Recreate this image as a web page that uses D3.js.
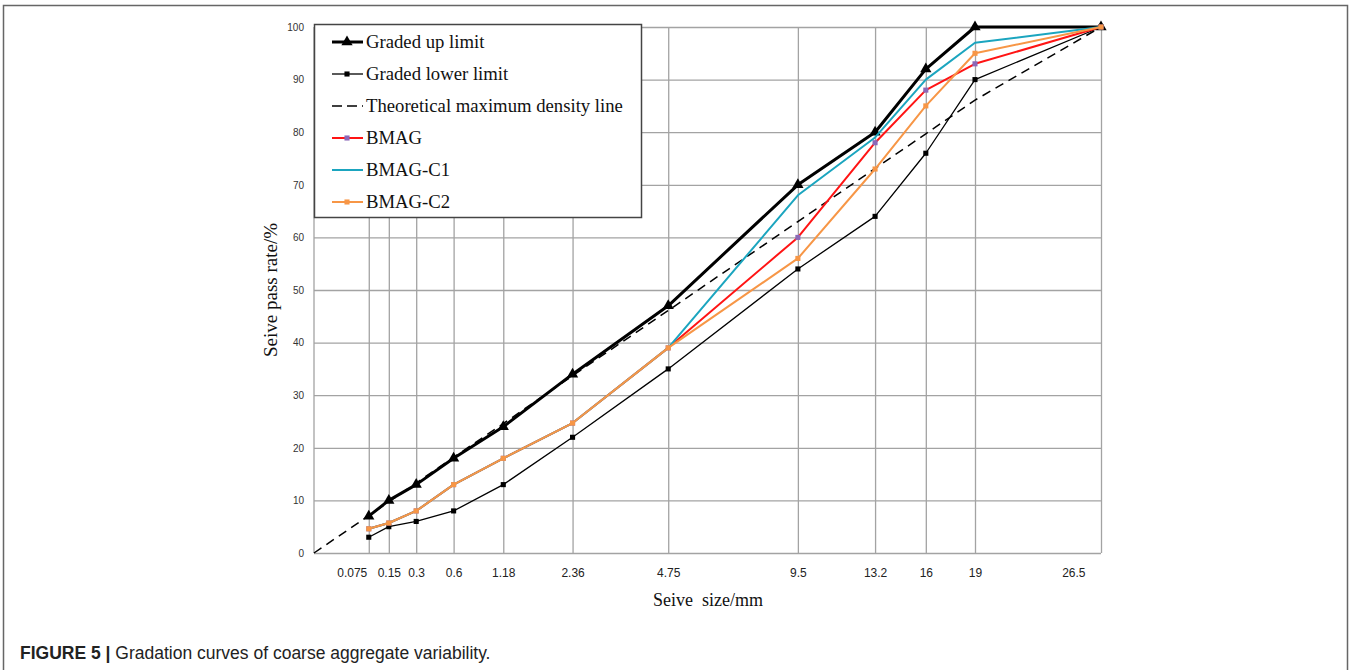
<!DOCTYPE html>
<html>
<head>
<meta charset="utf-8">
<script src="https://cdn.jsdelivr.net/npm/d3@7"></script>
<style>
  body { margin: 0; background: #fff; }
</style>
</head>
<body>
<div id="chart"></div>
<script>

// sieve sizes (mm) and pass rates (%)
const sieveSizes   = [0.075, 0.15, 0.3, 0.6, 1.18, 2.36, 4.75, 9.5, 13.2, 16, 19, 26.5]
const upperLimit   = [7, 10, 13, 18, 24, 34, 47, 70, 80, 92, 100, 100]
const lowerLimit   = [3, 5, 6, 8, 13, 22, 35, 54, 64, 76, 90, 100]
const bmag         = [4.6, 5.7, 8, 13, 18, 24.7, 39, 60, 78, 88, 93, 100]
const bmagC1       = [4.6, 5.7, 8, 13, 18, 24.7, 39, 68, 79, 90, 97, 100]
const bmagC2       = [4.6, 5.7, 8, 13, 18, 24.7, 39, 56, 73, 85, 95, 100]
const densitySizes = [0, 0.075, 0.15, 0.3, 0.6, 1.18, 2.36, 4.75, 9.5, 13.2, 16, 19, 26.5]
const densityLine  = [0, 7.1, 9.7, 13.3, 18.2, 24.6, 33.7, 46.1, 63, 73.1, 79.7, 86.1, 100]
const yTicks       = [0, 10, 20, 30, 40, 50, 60, 70, 80, 90, 100]
const seriesNames  = ['Graded up limit', 'Graded lower limit', 'Theoretical maximum density line',
                      'BMAG', 'BMAG-C1', 'BMAG-C2']

var width = 1351,
    height = 670,
    plot = {left: 314, right: 1101, top: 27, bottom: 553}

// 0.45 power gradation axis; the original stretches the last interval (19 -> 26.5)
var xScale = d3.scalePow().exponent(0.45)
        .domain([0, 19, 26.5])
        .range([plot.left, 975, plot.right]),
    yScale = d3.scaleLinear().domain([0, 100]).range([plot.bottom, plot.top])

var series = [
    {name: seriesNames[0], xs: sieveSizes, ys: upperLimit, color: '#000', width: 3, marker: 'tri', mColor: '#000'},
    {name: seriesNames[1], xs: sieveSizes, ys: lowerLimit, color: '#000', width: 1.3, marker: 'sq', mColor: '#000'},
    {name: seriesNames[2], xs: densitySizes, ys: densityLine, color: '#000', width: 1.5, dash: '9,6'},
    {name: seriesNames[3], xs: sieveSizes, ys: bmag, color: '#ff1414', width: 2, marker: 'sq', mColor: '#8b68b8'},
    {name: seriesNames[4], xs: sieveSizes, ys: bmagC1, color: '#1ba5bf', width: 2},
    {name: seriesNames[5], xs: sieveSizes, ys: bmagC2, color: '#f79646', width: 2, marker: 'sq', mColor: '#f79646'}
]

var svg = d3.select('#chart')
    .append('svg')
    .attr('width', width)
    .attr('height', height)
    .attr('font-family', 'Liberation Sans, Arial, sans-serif')

// outer frame of the figure panel
svg.append('path')
    .attr('d', `M3.5,${height} V5.5 H1347.5 V${height}`)
    .attr('fill', 'none')
    .attr('stroke', '#666')
    .attr('stroke-width', 1.5)

// grid + axes
var yAxis = d3.axisLeft(yScale)
    .tickValues(yTicks)
    .tickSize(-(plot.right - plot.left))
    .tickPadding(10)

svg.append('g')
    .attr('transform', `translate(${plot.left},0)`)
    .call(yAxis)
    .call(g => g.select('.domain').remove())
    .call(g => g.selectAll('line').attr('stroke', '#a3a3a3').attr('stroke-width', 1.3))
    .call(g => g.selectAll('text').attr('font-size', '10px').attr('fill', '#333'))

var xAxis = d3.axisBottom(xScale)
    .tickValues(sieveSizes)
    .tickSize(-(plot.bottom - plot.top))
    .tickPadding(15)
    .tickFormat(d => d)

svg.append('g')
    .attr('transform', `translate(0,${plot.bottom})`)
    .call(xAxis)
    .call(g => g.select('.domain').remove())
    .call(g => g.selectAll('line').attr('stroke', '#a3a3a3').attr('stroke-width', 1.3))
    .call(g => g.selectAll('text').attr('font-size', '12px').attr('fill', '#222'))
    .call(g => g.selectAll('text')
        .filter((d, i) => i === 0)
        .attr('text-anchor', 'end')
        .attr('dx', '-2'))
    .call(g => g.selectAll('text')
        .filter((d, i) => i === sieveSizes.length - 1)
        .attr('text-anchor', 'end')
        .attr('dx', '-16'))

// left border of the plot area
svg.append('line')
    .attr('x1', plot.left).attr('x2', plot.left)
    .attr('y1', plot.top).attr('y2', plot.bottom)
    .attr('stroke', '#a3a3a3')
    .attr('stroke-width', 1.3)

// series lines
var line = d3.line()
    .x(d => xScale(d[0]))
    .y(d => yScale(d[1]))

var triangle = d3.symbol().type(d3.symbolTriangle).size(55),
    square = d3.symbol().type(d3.symbolSquare).size(26)

series.forEach(function(s) {
    var pts = s.xs.map((x, i) => [x, s.ys[i]])

    svg.append('path')
        .datum(pts)
        .attr('fill', 'none')
        .attr('stroke', s.color)
        .attr('stroke-width', s.width)
        .attr('stroke-dasharray', s.dash || null)
        .attr('stroke-linejoin', 'round')
        .attr('d', line)

    if (s.marker) {
        svg.append('g')
            .selectAll('path')
            .data(pts)
            .join('path')
            .attr('transform', d => `translate(${xScale(d[0])},${yScale(d[1])})`)
            .attr('d', s.marker === 'tri' ? triangle : square)
            .attr('fill', s.mColor)
    }
})

// axis titles
svg.append('text')
    .attr('x', 708)
    .attr('y', 606)
    .attr('text-anchor', 'middle')
    .attr('font-family', 'Liberation Serif, Times New Roman, serif')
    .attr('font-size', '18px')
    .attr('fill', '#111')
    .style('white-space', 'pre')
    .text('Seive  size/mm')

svg.append('text')
    .attr('transform', `translate(277,290) rotate(-90)`)
    .attr('text-anchor', 'middle')
    .attr('font-family', 'Liberation Serif, Times New Roman, serif')
    .attr('font-size', '19px')
    .attr('fill', '#111')
    .text('Seive pass rate/%')

// legend
var legend = svg.append('g')

legend.append('rect')
    .attr('x', 314.5).attr('y', 24.5)
    .attr('width', 327).attr('height', 193)
    .attr('fill', '#fff')
    .attr('stroke', '#444')
    .attr('stroke-width', 1.5)

var item = legend.selectAll('g.item')
    .data(series)
    .join('g')
    .attr('class', 'item')
    .attr('transform', (d, i) => `translate(0,${42 + i * 32})`)

item.append('line')
    .attr('x1', 332).attr('x2', 363)
    .attr('stroke', d => d.color)
    .attr('stroke-width', d => d.width)
    .attr('stroke-dasharray', d => d.dash ? '10,5' : null)

item.filter(d => d.marker)
    .append('path')
    .attr('transform', 'translate(347,0)')
    .attr('d', d => d.marker === 'tri' ? triangle() : square())
    .attr('fill', d => d.mColor)

item.append('text')
    .attr('x', 366)
    .attr('dy', '0.33em')
    .attr('font-family', 'Liberation Serif, Times New Roman, serif')
    .attr('font-size', '18.7px')
    .attr('fill', '#111')
    .text(d => d.name)

// caption
var caption = svg.append('text')
    .attr('x', 20)
    .attr('y', 659)
    .attr('font-size', '17.5px')
    .attr('fill', '#222')

caption.append('tspan')
    .attr('font-weight', 'bold')
    .text('FIGURE 5 | ')

caption.append('tspan')
    .text('Gradation curves of coarse aggregate variability.')

</script>
</body>
</html>
